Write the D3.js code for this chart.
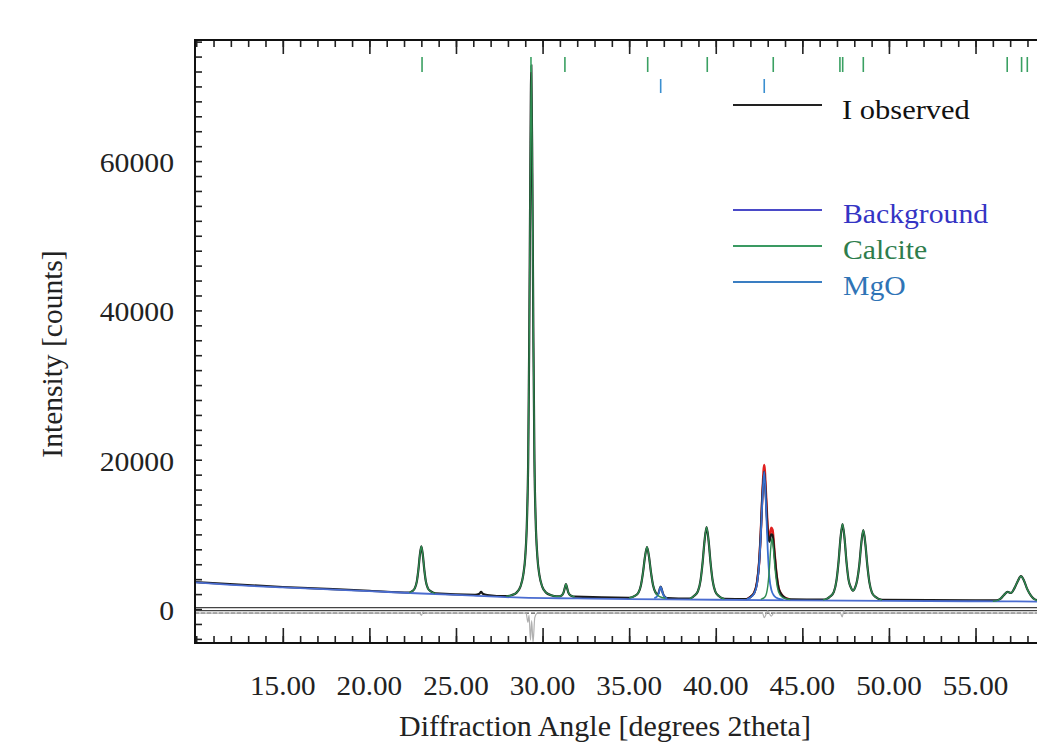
<!DOCTYPE html>
<html>
<head>
<meta charset="utf-8">
<script src="https://cdn.jsdelivr.net/npm/d3@7"></script>
<style>
  body { margin: 0; background: #fff; }
  svg { display: block; }
  text { font-family: "Liberation Serif", "Times New Roman", serif; }
</style>
</head>
<body>
<div id="vis"></div>
<script>
// ---- data: [angle (deg 2theta), intensity (counts)] ----
const xTicks = [15, 20, 25, 30, 35, 40, 45, 50, 55];
const yTicks = [0, 20000, 40000, 60000];

const bgPts = [[9.93,3560],[12,3240],[15,2890],[18,2590],[20,2390],[23,2080],[26,1790],
  [28.8,1520],[32,1420],[35,1330],[40,1240],[45,1160],[50,1090],[55,1040],[58.6,1000]];

// calcite phase curve (on top of background), one segment per peak group
const calcitePeaks = [
  [[22.3,2200],[22.47,2390],[22.62,2770],[22.74,3700],[22.83,5270],[22.91,7150],[23.0,8400],
   [23.09,7150],[23.17,5270],[23.26,3700],[23.38,2770],[23.53,2390],[23.8,2100]],
  [[27.9,1720],[28.2,1850],[28.5,2200],[28.72,3000],[28.88,4500],[29.0,7000],[29.1,12000],
   [29.17,20000],[29.23,36000],[29.29,58000],[29.35,72800],[29.41,58000],[29.47,36000],
   [29.53,20000],[29.6,12000],[29.7,7000],[29.82,4500],[29.98,3000],[30.2,2200],[30.5,1850],
   [30.8,1700],[30.95,1700],[31.05,1760],[31.14,1900],[31.21,2200],[31.28,2800],[31.35,3350],
   [31.42,2800],[31.49,2200],[31.57,1900],[31.68,1760],[31.85,1650]],
  [[35.0,1480],[35.33,1760],[35.53,2170],[35.68,3190],[35.8,4900],[35.91,6940],[36.03,8300],
   [36.15,6940],[36.26,4900],[36.38,3190],[36.53,2170],[36.73,1700],[37.1,1450]],
  [[38.5,1380],[38.77,1800],[38.97,2380],[39.12,3810],[39.24,6200],[39.35,9070],[39.47,10980],
   [39.59,9070],[39.7,6200],[39.82,3810],[39.97,2380],[40.17,1750],[40.5,1350]],
  [[42.6,1300],[42.85,1650],[43.0,3000],[43.1,5500],[43.18,8300],[43.25,9500],[43.32,8300],
   [43.42,5500],[43.55,3000],[43.72,1850],[43.95,1450],[44.3,1280]],
  [[46.2,1230],[46.4,1350],[46.62,1700],[46.82,2300],[46.97,3800],[47.09,6300],[47.2,9400],
   [47.32,11390],[47.44,9400],[47.55,6300],[47.67,3900],[47.8,2900],[47.92,2450],[48.05,2900],
   [48.17,3900],[48.29,5900],[48.4,8700],[48.52,10580],[48.64,8700],[48.75,5900],[48.87,3600],
   [49.02,2200],[49.22,1600],[49.6,1200]],
  [[56.0,1050],[56.2,1100],[56.45,1400],[56.65,1900],[56.85,2300],[57.05,2150],[57.25,2800],
   [57.45,3800],[57.62,4400],[57.8,3800],[57.98,2700],[58.2,1800],[58.4,1300],[58.6,1150]]
];

// MgO phase curve (on top of background)
const mgoPeaks = [
  [[36.45,1450],[36.6,1650],[36.7,2100],[36.76,2600],[36.82,2950],[36.88,2600],[36.94,2100],
   [37.04,1650],[37.2,1420]],
  [[41.8,1300],[42.0,1550],[42.22,2100],[42.38,3300],[42.5,5800],[42.6,9800],[42.7,15000],
   [42.8,18400],[42.9,14000],[43.0,8000],[43.1,4200],[43.22,2500],[43.38,1750],[43.6,1400],
   [43.9,1260]]
];

const observedPts = [[9.93,3620],[15,2950],[20,2450],[22.3,2200],
  [22.47,2390],[22.62,2770],[22.74,3700],[22.83,5270],[22.91,7150],[23.0,8400],
  [23.09,7150],[23.17,5270],[23.26,3700],[23.38,2770],[23.53,2390],[23.8,2100],
  [26.1,1900],[26.35,2050],[26.45,2300],[26.55,2050],[26.8,1880],
  [27.9,1720],[28.2,1850],[28.5,2200],[28.72,3000],[28.88,4500],[29.0,7000],[29.1,12000],
  [29.17,20000],[29.23,36000],[29.29,58000],[29.35,72800],[29.41,58000],[29.47,36000],
  [29.53,20000],[29.6,12000],[29.7,7000],[29.82,4500],[29.98,3000],[30.2,2200],[30.5,1850],
  [30.8,1700],[30.95,1700],[31.05,1760],[31.14,1900],[31.21,2200],[31.28,2800],[31.35,3350],
  [31.42,2800],[31.49,2200],[31.57,1900],[31.68,1760],[31.85,1650],
  [35.0,1500],[35.33,1760],[35.53,2170],[35.68,3190],[35.8,4900],[35.91,6940],[36.03,8300],
  [36.15,6940],[36.26,4900],[36.38,3190],[36.53,2200],[36.63,1950],[36.7,2150],[36.76,2650],
  [36.82,3000],[36.88,2650],[36.94,2150],[37.04,1700],[37.2,1480],
  [38.5,1400],[38.77,1800],[38.97,2380],[39.12,3810],[39.24,6200],[39.35,9070],[39.47,10980],
  [39.59,9070],[39.7,6200],[39.82,3810],[39.97,2380],[40.17,1750],[40.5,1380],
  [41.8,1330],[42.0,1620],[42.22,2180],[42.38,3530],[42.5,6080],[42.6,10240],[42.7,15600],
  [42.8,18400],[42.9,14800],[43.0,10400],[43.1,9000],[43.2,10000],[43.28,9900],[43.38,7700],
  [43.5,4800],[43.62,2900],[43.78,2000],[44.0,1500],[44.3,1300],
  [46.2,1250],[46.4,1350],[46.62,1700],[46.82,2300],[46.97,3800],[47.09,6300],[47.2,9400],
  [47.32,11390],[47.44,9400],[47.55,6300],[47.67,3900],[47.8,2900],[47.92,2450],[48.05,2900],
  [48.17,3900],[48.29,5900],[48.4,8700],[48.52,10580],[48.64,8700],[48.75,5900],[48.87,3600],
  [49.02,2200],[49.22,1620],[49.6,1240],
  [55,1150],[56.2,1150],[56.45,1400],[56.65,1900],[56.85,2300],[57.05,2150],[57.25,2800],
  [57.45,3800],[57.62,4400],[57.8,3800],[57.98,2700],[58.2,1800],[58.4,1320],[58.6,1180]];

// calculated profile, only the part that shows above the observed line
const calcPts = [[41.8,1330],[42.0,1620],[42.22,2180],[42.38,3530],[42.5,6080],[42.6,10240],
  [42.7,15800],[42.8,19300],[42.9,15500],[43.0,11000],[43.1,9400],[43.2,10900],[43.28,10600],
  [43.38,8000],[43.5,4800],[43.62,2900],[43.78,2000],[44.0,1500],[44.3,1300]];

// difference (obs - calc), drawn around its own offset baseline
const diffOffset = -560;
const diffPts = [[9.93,0],[22.9,0],[23.0,-300],[23.1,200],[23.2,0],[29.05,0],[29.15,-1200],
  [29.22,-300],[29.3,-3600],[29.37,-1000],[29.45,-3900],[29.55,-600],[29.7,0],
  [42.7,0],[42.8,-600],[43.0,300],[43.2,-400],[43.35,0],[47.2,0],[47.3,-500],[47.4,300],
  [47.55,0],[58.6,0]];

const calciteRefl = [23.04, 29.33, 31.29, 36.07, 39.51, 43.32, 47.17, 47.33, 48.52, 56.83, 57.66, 57.99];
const mgoRefl = [36.82, 42.80];

const legendItems = [
  { label: "Background", line: "#4a4ac8", text: "#3434c4" },
  { label: "Calcite", line: "#3a9a62", text: "#2e7d4c" },
  { label: "MgO", line: "#3a7ec2", text: "#2f74b6" }
];

// ---- layout ----
const W = 1037, H = 750;
const mLeft = 195, mTop = 40, mBottom = 643, mRight = 1037;

const svg = d3.select("#vis").append("svg")
  .attr("width", W).attr("height", H);

const x = d3.scaleLinear().domain([9.93, 58.55]).range([mLeft, mRight]);
const y = d3.scaleLinear().domain([-4550, 76220]).range([mBottom, mTop]);

const line = d3.line()
  .x(d => x(d[0]))
  .y(d => y(d[1]))
  .curve(d3.curveMonotoneX);

// the original text is a little wider than plain Times, so stretch it sideways
function stretched(sel, px, py, sx) {
  return sel.attr("transform", (d, i) => {
    const tx = typeof px === "function" ? px(d, i) : px;
    const ty = typeof py === "function" ? py(d, i) : py;
    return `translate(${tx},${ty}) scale(${sx},1)`;
  });
}

svg.append("clipPath").attr("id", "clip")
  .append("rect").attr("x", mLeft).attr("y", mTop)
  .attr("width", mRight - mLeft).attr("height", mBottom - mTop);
const plot = svg.append("g").attr("clip-path", "url(#clip)");

// zero line (double) and dashed difference baseline
[-1.5, 1.5].forEach(o => {
  plot.append("line")
    .attr("x1", mLeft).attr("x2", mRight)
    .attr("y1", y(0) + o).attr("y2", y(0) + o)
    .attr("stroke", "#444").attr("stroke-width", 1.2);
});
plot.append("line")
  .attr("x1", mLeft).attr("x2", mRight)
  .attr("y1", y(diffOffset)).attr("y2", y(diffOffset))
  .attr("stroke", "#555").attr("stroke-width", 1.2)
  .attr("stroke-dasharray", "4,2");

// difference curve
plot.append("path")
  .datum(diffPts.map(d => [d[0], d[1] + diffOffset]))
  .attr("d", line)
  .attr("fill", "none").attr("stroke", "#b0b0b0").attr("stroke-width", 1.2);

// curves
plot.append("path").datum(calcPts).attr("d", line)
  .attr("fill", "none").attr("stroke", "#e02020").attr("stroke-width", 2.4);
plot.append("path").datum(observedPts).attr("d", line)
  .attr("fill", "none").attr("stroke", "#1a1a1a").attr("stroke-width", 2.2);
plot.append("path").datum(bgPts).attr("d", line)
  .attr("fill", "none").attr("stroke", "#4a6cd0").attr("stroke-width", 1.8);
plot.append("g").selectAll("path")
  .data(mgoPeaks).enter().append("path")
  .attr("d", line)
  .attr("fill", "none").attr("stroke", "#3a6fd0").attr("stroke-width", 1.8);
plot.append("g").selectAll("path")
  .data(calcitePeaks).enter().append("path")
  .attr("d", line)
  .attr("fill", "none").attr("stroke", "#2e8b50").attr("stroke-width", 1.4);

// reflection markers
plot.append("g").selectAll("line")
  .data(calciteRefl).enter().append("line")
  .attr("x1", d => x(d)).attr("x2", d => x(d))
  .attr("y1", 57).attr("y2", 72)
  .attr("stroke", "#3aa062").attr("stroke-width", 1.6);
plot.append("g").selectAll("line")
  .data(mgoRefl).enter().append("line")
  .attr("x1", d => x(d)).attr("x2", d => x(d))
  .attr("y1", 79).attr("y2", 93)
  .attr("stroke", "#3a8fd0").attr("stroke-width", 1.6);

// ---- axes (ticks pointing inward) ----
const minorX = d3.range(10, 59, 1);
const minorY = d3.range(-4000, 76001, 2000);

const axB = svg.append("g").attr("transform", `translate(0,${mBottom})`)
  .call(d3.axisBottom(x).tickValues(minorX).tickSize(-7).tickFormat(""));
const axBm = svg.append("g").attr("transform", `translate(0,${mBottom})`)
  .call(d3.axisBottom(x).tickValues(xTicks).tickSize(-15).tickFormat(""));
const axT = svg.append("g").attr("transform", `translate(0,${mTop})`)
  .call(d3.axisTop(x).tickValues(minorX).tickSize(-7).tickFormat(""));
const axTm = svg.append("g").attr("transform", `translate(0,${mTop})`)
  .call(d3.axisTop(x).tickValues(xTicks).tickSize(-14).tickFormat(""));
const axL = svg.append("g").attr("transform", `translate(${mLeft},0)`)
  .call(d3.axisLeft(y).tickValues(minorY).tickSize(-7).tickFormat(""));

[axB, axBm, axT, axTm, axL].forEach(g => {
  g.select(".domain").remove();
  g.selectAll(".tick line").attr("stroke", "#222").attr("stroke-width", 1.6);
});

// frame
svg.append("rect")
  .attr("x", mLeft).attr("y", mTop)
  .attr("width", mRight - mLeft + 20).attr("height", mBottom - mTop)
  .attr("fill", "none").attr("stroke", "#111").attr("stroke-width", 2);

// tick labels
stretched(svg.append("g").selectAll("text")
  .data(xTicks).enter().append("text"), d => x(d), 695, 1.08)
  .attr("text-anchor", "middle")
  .attr("font-size", 27).attr("fill", "#222")
  .text(d => d.toFixed(2));

stretched(svg.append("g").selectAll("text")
  .data(yTicks).enter().append("text"), 174, d => y(d) + 11, 1.1)
  .attr("text-anchor", "end")
  .attr("font-size", 27).attr("fill", "#222")
  .text(d => d);

// axis titles
stretched(svg.append("text"), 605, 736, 1.035)
  .attr("text-anchor", "middle")
  .attr("font-size", 29).attr("fill", "#222")
  .text("Diffraction Angle [degrees 2theta]");

svg.append("text")
  .attr("transform", "translate(62,354) rotate(-90)")
  .attr("text-anchor", "middle")
  .attr("font-size", 29.5).attr("fill", "#222")
  .text("Intensity [counts]");

// ---- legend ----
svg.append("line")
  .attr("x1", 733).attr("x2", 822).attr("y1", 105).attr("y2", 105)
  .attr("stroke", "#222").attr("stroke-width", 1.8);
stretched(svg.append("text"), 842, 119, 1.13)
  .attr("font-size", 27).attr("fill", "#111")
  .text("I observed");

const leg = svg.append("g").selectAll("g")
  .data(legendItems).enter().append("g")
  .attr("transform", (d, i) => `translate(0,${210 + i * 36})`);
leg.append("line")
  .attr("x1", 733).attr("x2", 822).attr("y1", 0).attr("y2", 0)
  .attr("stroke", d => d.line).attr("stroke-width", 1.8);
stretched(leg.append("text"), 843, 13, 1.1)
  .attr("font-size", 27)
  .attr("fill", d => d.text)
  .text(d => d.label);
</script>
</body>
</html>
